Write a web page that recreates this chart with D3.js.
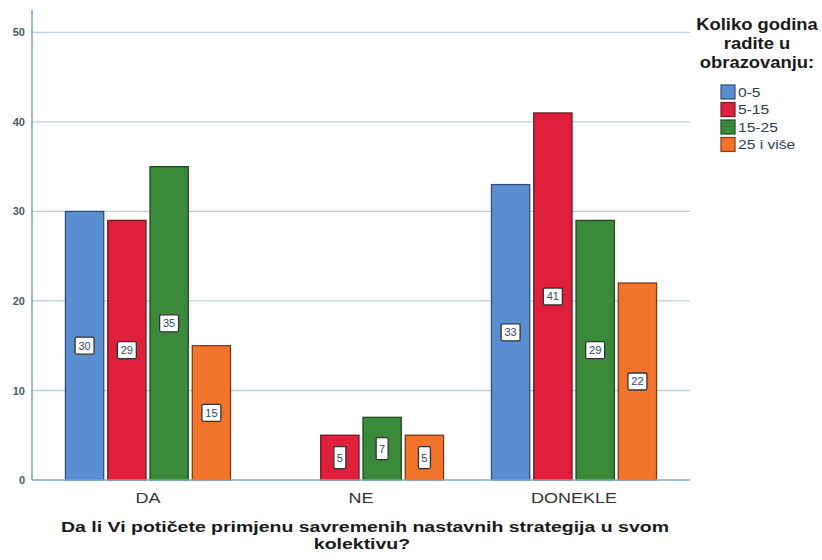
<!DOCTYPE html>
<html>
<head>
<meta charset="utf-8">
<script src="https://cdn.jsdelivr.net/npm/d3@7"></script>
<style>
  body { margin: 0; background: #fff; }
  svg { font-family: "Liberation Sans", Arial, sans-serif; }
</style>
</head>
<body>
<script>
// chart data
const categories = ["DA", "NE", "DONEKLE"];
const series = ["0-5", "5-15", "15-25", "25 i više"];
const values = [
    [30, 29, 35, 15],   // DA
    [0, 5, 7, 5],       // NE
    [33, 41, 29, 22]    // DONEKLE
];
const yTicks = [0, 10, 20, 30, 40, 50];
const xTitleLines = ["Da li Vi potičete primjenu savremenih nastavnih strategija u svom", "kolektivu?"];
const legendTitleLines = ["Koliko godina", "radite u", "obrazovanju:"];
const colors = ["#5b8dd1", "#e01f3c", "#3b8a3b", "#f2732a"];
const strokes = ["#2d4f7c", "#6e1a24", "#1f4a1f", "#7a3a18"];

const width = 822, height = 560;
const svg = d3.select("body").append("svg")
    .attr("width", width)
    .attr("height", height);

// the reference text is a bit wider than Liberation Sans, stretch it
function wideText(parent, x, y, sx){
    return parent.append("g")
        .attr("transform", `translate(${x},${y}) scale(${sx},1)`)
        .append("text");
}

const x = d3.scaleBand()
    .domain(categories)
    .range([32, 690])
    .paddingInner(0.225)
    .paddingOuter(0.157);

const xs = d3.scaleBand()
    .domain(series)
    .range([0, x.bandwidth()])
    .paddingInner(0.095);

const y = d3.scaleLinear()
    .domain([0, 52.5])
    .range([480, 10]);

// grid lines
svg.append("g")
    .selectAll("line")
    .data(yTicks.filter(d => d > 0))
    .enter()
    .append("line")
    .attr("x1", 32).attr("x2", 690)
    .attr("y1", d => y(d)).attr("y2", d => y(d))
    .style("stroke", "#b9d0de")
    .style("stroke-width", 1.3);

// y axis
const yAxis = svg.append("g")
    .attr("transform", "translate(32,0)")
    .call(d3.axisLeft(y).tickValues(yTicks).tickSize(0).tickPadding(7));
yAxis.select(".domain").remove();
yAxis.selectAll("text")
    .style("font-size", "11px")
    .style("font-weight", "bold")
    .style("fill", "#4a5a66");

svg.append("line")
    .attr("x1", 32).attr("x2", 32)
    .attr("y1", 10).attr("y2", 480)
    .style("stroke", "#7fa0b5")
    .style("stroke-width", 1.5);

// bars
const groups = svg.append("g")
    .selectAll("g")
    .data(categories)
    .enter()
    .append("g")
    .attr("transform", d => `translate(${x(d)},0)`);

const bars = groups.selectAll("g.bar")
    .data((c, i) => values[i].map((v, j) => ({s: series[j], v: v, j: j})))
    .enter()
    .append("g")
    .attr("class", "bar");

bars.append("rect")
    .attr("x", d => xs(d.s))
    .attr("y", d => y(d.v))
    .attr("width", xs.bandwidth())
    .attr("height", d => y(0) - y(d.v))
    .style("fill", d => colors[d.j])
    .style("stroke", d => strokes[d.j])
    .style("stroke-width", 1.3);

// value labels
const labels = bars.filter(d => d.v > 0)
    .append("g")
    .attr("transform", d => `translate(${xs(d.s) + xs.bandwidth() / 2},${y(d.v / 2)})`);

labels.append("rect")
    .attr("x", d => String(d.v).length === 1 ? -6 : -9.5)
    .attr("y", d => String(d.v).length === 1 ? -11 : -8.5)
    .attr("width", d => String(d.v).length === 1 ? 12 : 19)
    .attr("height", d => String(d.v).length === 1 ? 22 : 17)
    .attr("rx", 1.5)
    .style("fill", "#fdfdfd")
    .style("stroke", "#333")
    .style("stroke-width", 1.3);

labels.append("text")
    .attr("text-anchor", "middle")
    .attr("dy", "0.36em")
    .style("font-size", "11px")
    .style("fill", "#2f4d68")
    .text(d => d.v);

// x axis
svg.append("line")
    .attr("x1", 32).attr("x2", 690)
    .attr("y1", 480).attr("y2", 480)
    .style("stroke", "#7fb0c5")
    .style("stroke-width", 1.5);

categories.forEach(c => {
    wideText(svg, x(c) + x.bandwidth() / 2, 503, 1.2)
        .attr("text-anchor", "middle")
        .style("font-size", "15px")
        .style("fill", "#333")
        .text(c);
});

// x axis title
xTitleLines.forEach((t, i) => {
    wideText(svg, i === 0 ? 365 : 362, 532 + i * 17, 1.3)
        .attr("text-anchor", "middle")
        .style("font-size", "15px")
        .style("font-weight", "bold")
        .style("fill", "#1a1a1a")
        .text(t);
});

// legend
legendTitleLines.forEach((t, i) => {
    wideText(svg, 757, 30 + i * 19, 1.15)
        .attr("text-anchor", "middle")
        .style("font-size", "16px")
        .style("font-weight", "bold")
        .style("fill", "#1a1a1a")
        .text(t);
});

const legend = svg.append("g")
    .selectAll("g")
    .data(series)
    .enter()
    .append("g")
    .attr("transform", (d, i) => `translate(721,${85 + i * 17.5})`);

legend.append("rect")
    .attr("width", 14).attr("height", 14)
    .style("fill", (d, i) => colors[i])
    .style("stroke", (d, i) => strokes[i])
    .style("stroke-width", 1.2);

legend.append("g")
    .attr("transform", "translate(17,7) scale(1.2,1)")
    .append("text")
    .attr("dy", "0.36em")
    .style("font-size", "13px")
    .style("fill", "#2f4050")
    .text(d => d);
</script>
</body>
</html>
